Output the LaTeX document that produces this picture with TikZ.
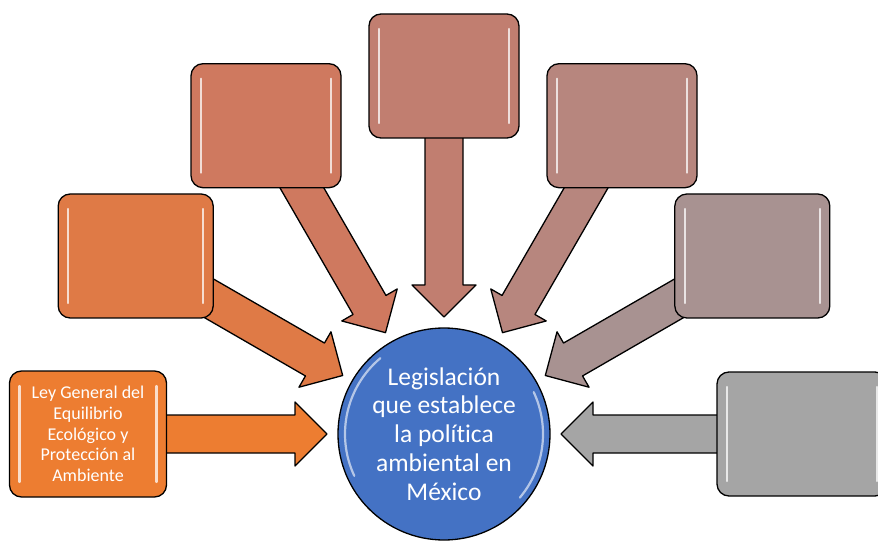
\documentclass[tikz,border=0pt]{standalone}
\usepackage{fontspec}
\setmainfont[Ligatures=NoCommon]{Carlito}
\usetikzlibrary{
  calc,
  backgrounds
}
\usepackage{xcolor}
\definecolor{hubBlue}{HTML}{4472C4}
\definecolor{lawOrange}{HTML}{ED7D31}
\definecolor{burntOrange}{HTML}{DF7A46}
\definecolor{clayOrange}{HTML}{CF795F}
\definecolor{dustyRose}{HTML}{C17E70}
\definecolor{mauveRose}{HTML}{B7867E}
\definecolor{mauveGrey}{HTML}{A89291}
\definecolor{plainGrey}{HTML}{A5A5A5}
\tikzset{
  lawbox/.style={
    rounded corners=12pt,
    draw=black,
    line width=1.3pt,
    minimum width=155pt,
    minimum height=124pt,
    inner sep=0pt,
    text=white,
    align=center,
    font=\fontsize{18}{20.6}\selectfont,
    path picture={
      \draw[white, opacity=.75, line width=2.2pt, line cap=round]
        ($(path picture bounding box.north west)+(10pt,-15pt)$) --
        ($(path picture bounding box.south west)+(10pt,15pt)$)
        ($(path picture bounding box.north east)+(-10pt,-15pt)$) --
        ($(path picture bounding box.south east)+(-10pt,15pt)$);
    }
  },
  hub/.style={
    circle,
    draw=black,
    line width=1.3pt,
    fill=hubBlue,
    minimum size=212pt,
    inner sep=0pt,
    text=white,
    align=center,
    font=\fontsize{25.5}{28.8}\selectfont,
    path picture={
      \draw[white, opacity=.6, line width=2.2pt, line cap=round]
        ($(path picture bounding box.center)+(205:99pt)$) arc[start angle=205, end angle=130, radius=99pt]
        ($(path picture bounding box.center)+(25:99pt)$) arc[start angle=25, end angle=-40, radius=99pt];
    }
  },
  arrowbody/.style={
    draw=black,
    line width=1.3pt,
    line join=round
  }
}
% block arrow from box #1 towards hub #2
\newcommand\blockarrow[3]{%
  \draw[arrowbody, fill=#3]
    ($(#2)!117pt!(#1)$)
    -- ($(#2)!149pt!(#1)!32pt!90:(#1)$)
    -- ($(#2)!149pt!(#1)!19pt!90:(#1)$)
    -- ($(#2)!300pt!(#1)!19pt!90:(#1)$)
    -- ($(#2)!300pt!(#1)!19pt!-90:(#1)$)
    -- ($(#2)!149pt!(#1)!19pt!-90:(#1)$)
    -- ($(#2)!149pt!(#1)!32pt!-90:(#1)$)
    -- cycle;}

\begin{document}
\begin{tikzpicture}[x=1pt, y=1pt]
  \useasboundingbox (0,0) rectangle (878,544);

  \node[hub] (mexico) at (444,110)
    {Legislación\\que establece\\la política\\ambiental en\\México};

  \node[lawbox, fill=lawOrange, minimum width=157pt, minimum height=126pt] (ley)
    at ($(mexico)+(180:356pt)$)
    {Ley General del\\Equilibrio\\Ecológico y\\Protección al\\Ambiente};
  \node[lawbox, fill=burntOrange] (left) at ($(mexico)+(150:356pt)$) {};
  \node[lawbox, fill=clayOrange, minimum width=150pt] (upleft) at ($(mexico)+(120:356pt)$) {};
  \node[lawbox, fill=dustyRose, minimum width=150pt] (top) at ($(mexico)+(90:358pt)$) {};
  \node[lawbox, fill=mauveRose, minimum width=150pt] (upright) at ($(mexico)+(60:356pt)$) {};
  \node[lawbox, fill=mauveGrey] (right) at ($(mexico)+(30:356pt)$) {};
  \node[lawbox, fill=plainGrey, minimum width=170pt] (grey) at ($(mexico)+(0:358pt)$) {};

  \begin{scope}[on background layer]
    \foreach \b/\c in {ley/lawOrange, left/burntOrange, upleft/clayOrange,
                       top/dustyRose, upright/mauveRose, right/mauveGrey,
                       grey/plainGrey}{
      \blockarrow{\b}{mexico}{\c}
    }
  \end{scope}
\end{tikzpicture}
\end{document}
